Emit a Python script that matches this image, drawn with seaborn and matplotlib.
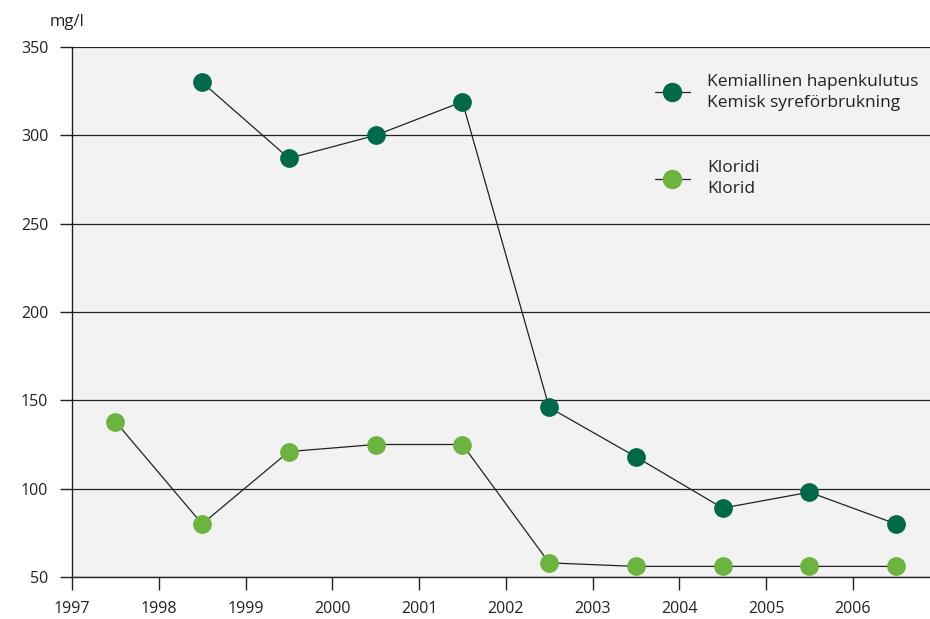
import matplotlib
matplotlib.use("Agg")
import matplotlib.pyplot as plt
from matplotlib.lines import Line2D
import seaborn as sns
import pandas as pd

years_cod = [1998.5, 1999.5, 2000.5, 2001.5, 2002.5, 2003.5, 2004.5, 2005.5, 2006.5]
cod = [330, 287, 300, 319, 146, 118, 89, 98, 80]
years_cl = [1997.5, 1998.5, 1999.5, 2000.5, 2001.5, 2002.5, 2003.5, 2004.5, 2005.5, 2006.5]
cl = [138, 80, 121, 125, 125, 58, 56, 56, 56, 56]
xticks = [1997, 1998, 1999, 2000, 2001, 2002, 2003, 2004, 2005, 2006]
yticks = [50, 100, 150, 200, 250, 300, 350]
label_cod = "Kemiallinen hapenkulutus\nKemisk syreförbrukning"
label_cl = "Kloridi\nKlorid"

dark = "#00694A"
light = "#6DB33F"

sns.set_theme(style="white")
plt.rcParams["font.family"] = ["Open Sans", "DejaVu Sans"]

fig = plt.figure(figsize=(9.3, 6.19), dpi=100)
ax = fig.add_axes([72/930, 1-577/619, 1-72/930, (577-47)/619])
ax.set_facecolor("#F2F2F2")

df_cod = pd.DataFrame({"year": years_cod, "val": cod})
df_cl = pd.DataFrame({"year": years_cl, "val": cl})

for df, col in [(df_cod, dark), (df_cl, light)]:
    sns.lineplot(data=df, x="year", y="val", ax=ax, color="#222222", linewidth=0.9,
                 marker="o", markersize=13.5, markerfacecolor=col, markeredgecolor=col,
                 markeredgewidth=0, zorder=3)

ax.set_xlim(1997, 2006.89)
ax.set_ylim(50, 350)
ax.set_xticks(xticks)
ax.set_yticks(yticks)
ax.set_xticklabels([str(x) for x in xticks])
ax.set_yticklabels([str(y) for y in yticks])
ax.set_xlabel("")
ax.set_ylabel("")
for y in yticks:
    ax.axhline(y, color="#222222", linewidth=0.9, zorder=1)

for s in ["right", "top"]:
    ax.spines[s].set_visible(False)
for s in ["left", "bottom"]:
    ax.spines[s].set_color("#222222")
    ax.spines[s].set_linewidth(1.0)
ax.tick_params(axis="both", direction="out", length=9, width=1.0, color="#222222",
               labelsize=11.5, labelcolor="#222222", bottom=True, left=True)
ax.tick_params(axis="x", pad=8)
ax.tick_params(axis="y", pad=8)

fig.text(50/930, 1-22/619, "mg/l", fontsize=12, color="#222222", va="center", ha="left")

handles = [
    Line2D([0], [0], color="#222222", linewidth=0.9, marker="o", markersize=14,
           markerfacecolor=dark, markeredgewidth=0),
    Line2D([0], [0], color="#222222", linewidth=0.9, marker="o", markersize=14,
           markerfacecolor=light, markeredgewidth=0),
]
leg = ax.legend(handles, [label_cod, label_cl], loc="upper left",
                bbox_to_anchor=((655-72)/858, 1-(74-47)/530), frameon=False,
                borderpad=0, borderaxespad=0,
                fontsize=12.5, handlelength=2.0, handletextpad=1.0, labelspacing=2.85,
                labelcolor="#222222")
for t in leg.get_texts():
    t.set_linespacing(1.4)

fig.savefig("out.png", dpi=100)
